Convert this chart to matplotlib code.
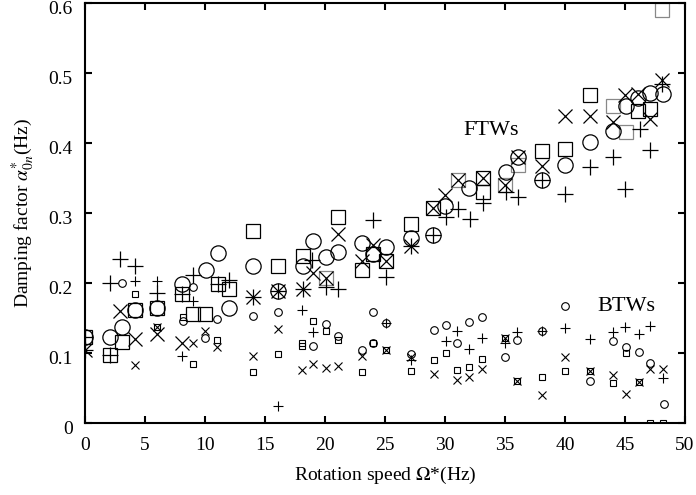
import numpy as np
import matplotlib.pyplot as plt
import matplotlib.transforms as mtransforms

plt.rcParams['font.family'] = ['Liberation Serif', 'DejaVu Serif']
plt.rcParams['mathtext.fontset'] = 'stix'

# ---- FTWs (large markers) ----
ftw_sq_x = [0, 2.1, 3.05, 4.2, 6, 8.1, 9, 10, 11.05, 12, 14, 16.1, 18.2, 21.1, 23.1, 24, 25.1,
            27.2, 29, 33.2, 33.2, 38.1, 40, 42.1, 46.1, 47.1]
ftw_sq_y = [0.123, 0.097, 0.116, 0.162, 0.164, 0.185, 0.156, 0.156, 0.199, 0.191, 0.274, 0.225,
            0.238, 0.295, 0.218, 0.242, 0.232, 0.284, 0.307, 0.35, 0.33, 0.388, 0.392, 0.469,
            0.446, 0.449]
ftw_sq_gray_x = [20.1, 31.1, 35, 36.1, 44, 45.05, 48.1]
ftw_sq_gray_y = [0.207, 0.347, 0.34, 0.368, 0.453, 0.416, 0.59]

ftw_o_x = [0, 2.1, 3.05, 4.2, 6, 8.1, 10.05, 11.05, 12, 14, 16.1, 18.2, 19, 20.1, 21.1, 23.1,
           24, 25.1, 27.2, 29, 30, 32, 35.1, 36.1, 38.1, 40, 42.1, 44, 45.05, 46.1, 47.1, 48.2]
ftw_o_y = [0.123, 0.123, 0.137, 0.162, 0.164, 0.199, 0.218, 0.243, 0.165, 0.225, 0.189, 0.225,
           0.26, 0.237, 0.245, 0.257, 0.242, 0.251, 0.265, 0.269, 0.31, 0.336, 0.359, 0.38,
           0.347, 0.369, 0.401, 0.417, 0.453, 0.465, 0.471, 0.47]

ftw_x_x = [0, 2.9, 4.2, 6, 8.1, 14, 16.1, 18.2, 19, 20.1, 21.1, 23.1, 24, 25.1, 27.2, 29, 30,
           31.1, 33.2, 35, 36.1, 38.1, 40, 42.1, 44, 45, 46.1, 47.1, 48.1]
ftw_x_y = [0.105, 0.16, 0.12, 0.127, 0.115, 0.18, 0.189, 0.192, 0.215, 0.207, 0.27, 0.232,
           0.255, 0.232, 0.253, 0.307, 0.326, 0.347, 0.35, 0.34, 0.38, 0.367, 0.439, 0.439,
           0.43, 0.468, 0.47, 0.435, 0.49]

ftw_p_x = [0, 0, 2.1, 2.1, 2.9, 4.2, 6, 8.1, 9, 11.05, 12, 14, 16.1, 18.2, 18.9, 20.1, 21.1,
           24, 25.1, 27.2, 29, 30.1, 31.1, 32.1, 33.2, 35.1, 36.1, 38.1, 40, 42.1, 44, 45,
           46.25, 47.1, 48.1]
ftw_p_y = [0.123, 0.105, 0.2, 0.097, 0.234, 0.224, 0.186, 0.185, 0.212, 0.199, 0.205, 0.18,
           0.189, 0.192, 0.233, 0.194, 0.192, 0.29, 0.208, 0.253, 0.269, 0.294, 0.306, 0.292,
           0.314, 0.33, 0.323, 0.347, 0.327, 0.366, 0.38, 0.335, 0.42, 0.39, 0.485]

# ---- BTWs (small markers) ----
btw_sq_x = [4.2, 6, 8.2, 9, 11, 14, 16.1, 18.1, 18.1, 19, 20.1, 21.1, 23.1, 24, 25.1, 27.2,
            29.1, 30.1, 31, 32, 33.1, 35, 36, 38.05, 40, 42.1, 44, 45.1, 46.2, 47.1, 48.2]
btw_sq_y = [0.184, 0.137, 0.151, 0.084, 0.118, 0.073, 0.099, 0.115, 0.11, 0.146, 0.132, 0.118,
            0.073, 0.114, 0.105, 0.074, 0.09, 0.1, 0.076, 0.08, 0.091, 0.121, 0.06, 0.066,
            0.075, 0.074, 0.057, 0.1, 0.059, 0.0, 0.0]

btw_o_x = [3.05, 8.2, 9, 10, 11, 14, 16.1, 19, 20.1, 21.1, 23.1, 24, 24, 25.1, 27.2, 29.1,
           30.1, 31, 32, 33.1, 35, 36, 38.05, 40, 42.1, 44, 45.1, 46.2, 47.1, 48.25]
btw_o_y = [0.2, 0.146, 0.194, 0.122, 0.149, 0.153, 0.158, 0.11, 0.142, 0.125, 0.104, 0.158,
           0.114, 0.143, 0.099, 0.133, 0.14, 0.114, 0.145, 0.151, 0.094, 0.119, 0.132, 0.167,
           0.06, 0.117, 0.109, 0.102, 0.086, 0.027]

btw_x_x = [4.2, 6, 9, 10, 11, 14, 16.1, 18.1, 19, 20.1, 21.1, 23.1, 25.1, 27.2, 29.1, 31, 32,
           33.1, 35, 36, 38.05, 40, 42.1, 44, 45.1, 46.2, 47.1, 48.2]
btw_x_y = [0.083, 0.137, 0.115, 0.132, 0.109, 0.096, 0.135, 0.076, 0.084, 0.078, 0.081, 0.096,
           0.105, 0.095, 0.07, 0.062, 0.066, 0.077, 0.121, 0.06, 0.04, 0.095, 0.074, 0.068,
           0.041, 0.059, 0.077, 0.077]

btw_p_x = [4.2, 6, 8.1, 9, 16.1, 18.1, 19, 25.1, 27.2, 30.1, 31, 32, 33.1, 35, 36, 38.05, 40,
           42.1, 44, 45, 46.2, 47.1, 48.2]
btw_p_y = [0.203, 0.203, 0.096, 0.175, 0.024, 0.161, 0.13, 0.143, 0.09, 0.117, 0.131, 0.106,
           0.121, 0.115, 0.13, 0.132, 0.136, 0.12, 0.13, 0.137, 0.127, 0.139, 0.065]

fig = plt.figure(figsize=(6.96, 4.95), dpi=100)
ax = fig.add_axes([85 / 696, 1 - 423 / 495, 600 / 696, 420 / 495])

big = dict(linestyle='none', markerfacecolor='none', markeredgewidth=0.9)
small = dict(linestyle='none', markerfacecolor='none', markeredgewidth=0.8)

ax.plot(ftw_sq_x, ftw_sq_y, marker='s', markersize=10, markeredgecolor='black', **big)
ax.plot(ftw_sq_gray_x, ftw_sq_gray_y, marker='s', markersize=10, markeredgecolor='#888888', **big)
ax.plot(ftw_o_x, ftw_o_y, marker='o', markersize=11, markeredgecolor='black', **big)
ax.plot(ftw_x_x, ftw_x_y, marker='x', markersize=10, markeredgecolor='black', **big)
ax.plot(ftw_p_x, ftw_p_y, marker='+', markersize=12, markeredgecolor='black', **big)

ax.plot(btw_sq_x, btw_sq_y, marker='s', markersize=5, markeredgecolor='black', **small)
ax.plot(btw_o_x, btw_o_y, marker='o', markersize=5.5, markeredgecolor='black', **small)
ax.plot(btw_x_x, btw_x_y, marker='x', markersize=5.5, markeredgecolor='black', **small)
ax.plot(btw_p_x, btw_p_y, marker='+', markersize=6.5, markeredgecolor='black', **small)

ax.text(31.5, 0.418, 'FTWs', fontsize=16, va='center', ha='left')
ax.text(42.7, 0.167, 'BTWs', fontsize=16, va='center', ha='left')

ax.set_xlim(0, 50)
ax.set_ylim(0, 0.6)
ax.set_xticks(np.arange(0, 51, 5))
ax.set_yticks([0, 0.1, 0.2, 0.3, 0.4, 0.5, 0.6])
ax.set_yticklabels(['0', '0.1', '0.2', '0.3', '0.4', '0.5', '0.6'])
ax.tick_params(direction='in', length=5, width=1.5, top=True, right=True,
               labelsize=14)
ax.tick_params(axis='x', pad=10)
ax.tick_params(axis='y', pad=9)
for s in ax.spines.values():
    s.set_linewidth(1.5)

shift = mtransforms.ScaledTranslation(0, -3 / 72, fig.dpi_scale_trans)
for lab in ax.get_yticklabels():
    lab.set_transform(lab.get_transform() + shift)

ax.set_xlabel(r'Rotation speed $\mathit{\Omega}$*(Hz)', fontsize=14, labelpad=8)
ax.set_ylabel(r'Damping factor $\alpha^{*}_{0n}$(Hz)', fontsize=14, labelpad=8)

fig.savefig('out.png', dpi=100)
